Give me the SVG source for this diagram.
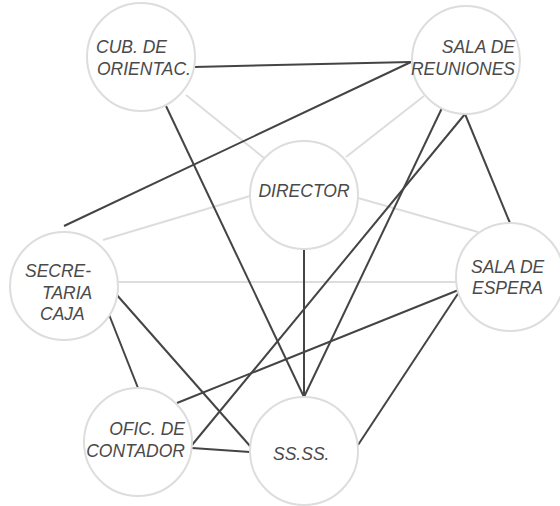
<svg xmlns="http://www.w3.org/2000/svg" width="560" height="506" viewBox="0 0 560 506">
<style>
.bg{fill:#ffffff}
.node circle{fill:#ffffff;stroke:#dddddd;stroke-width:2}
.node text{font-family:"Liberation Sans",Arial,sans-serif;font-style:italic;font-size:17.5px;fill:#4a4a4a}
.light{stroke:#dddddd;stroke-width:2;fill:none}
.dark{stroke:#444444;stroke-width:2;fill:none}
</style>
<rect class="bg" x="0" y="0" width="560" height="506"/>
<g id="connectors">
  <line class="light" x1="186" y1="95" x2="264" y2="158"/>
  <line class="light" x1="424" y1="96" x2="346" y2="157"/>
  <line class="light" x1="103" y1="240" x2="250" y2="196"/>
  <line class="light" x1="358" y1="198" x2="478" y2="232"/>
  <line class="light" x1="118" y1="282" x2="456" y2="282"/>
  <line class="dark" x1="194" y1="67" x2="411" y2="62"/>
  <line class="dark" x1="64" y1="226" x2="411" y2="62"/>
  <line class="dark" x1="166" y1="106" x2="304" y2="397"/>
  <line class="dark" x1="442" y1="108" x2="304" y2="397"/>
  <line class="dark" x1="304" y1="249" x2="304" y2="397"/>
  <line class="dark" x1="465" y1="114" x2="192" y2="445"/>
  <line class="dark" x1="465" y1="114" x2="510" y2="223"/>
  <line class="dark" x1="108" y1="312" x2="138" y2="388"/>
  <line class="dark" x1="116" y1="294" x2="250" y2="446"/>
  <line class="dark" x1="177" y1="403" x2="461" y2="289"/>
  <line class="dark" x1="461" y1="289" x2="358" y2="445"/>
  <line class="dark" x1="192" y1="448" x2="250" y2="452"/>
</g>
<g id="cub" class="node">
  <circle cx="141" cy="57" r="54"/>
  <text x="96" y="53">CUB. DE</text>
  <text x="97" y="75">ORIENTAC.</text>
</g>
<g id="sala-reuniones" class="node">
  <circle cx="466" cy="60" r="54"/>
  <text x="515" y="53" text-anchor="end">SALA DE</text>
  <text x="515" y="75" text-anchor="end">REUNIONES</text>
</g>
<g id="director" class="node">
  <circle cx="304" cy="195" r="54"/>
  <text x="304" y="197" text-anchor="middle">DIRECTOR</text>
</g>
<g id="secretaria" class="node">
  <circle cx="64" cy="286" r="54"/>
  <text x="25" y="277">SECRE-</text>
  <text x="42" y="299">TARIA</text>
  <text x="40" y="320">CAJA</text>
</g>
<g id="sala-espera" class="node">
  <circle cx="510" cy="277" r="54"/>
  <text x="471" y="273">SALA DE</text>
  <text x="472" y="294">ESPERA</text>
</g>
<g id="contador" class="node">
  <circle cx="138" cy="442" r="54"/>
  <text x="185" y="435" text-anchor="end">OFIC. DE</text>
  <text x="185" y="457" text-anchor="end">CONTADOR</text>
</g>
<g id="ssss" class="node">
  <circle cx="304" cy="451" r="54"/>
  <text x="273" y="460">SS.SS.</text>
</g>
</svg>
